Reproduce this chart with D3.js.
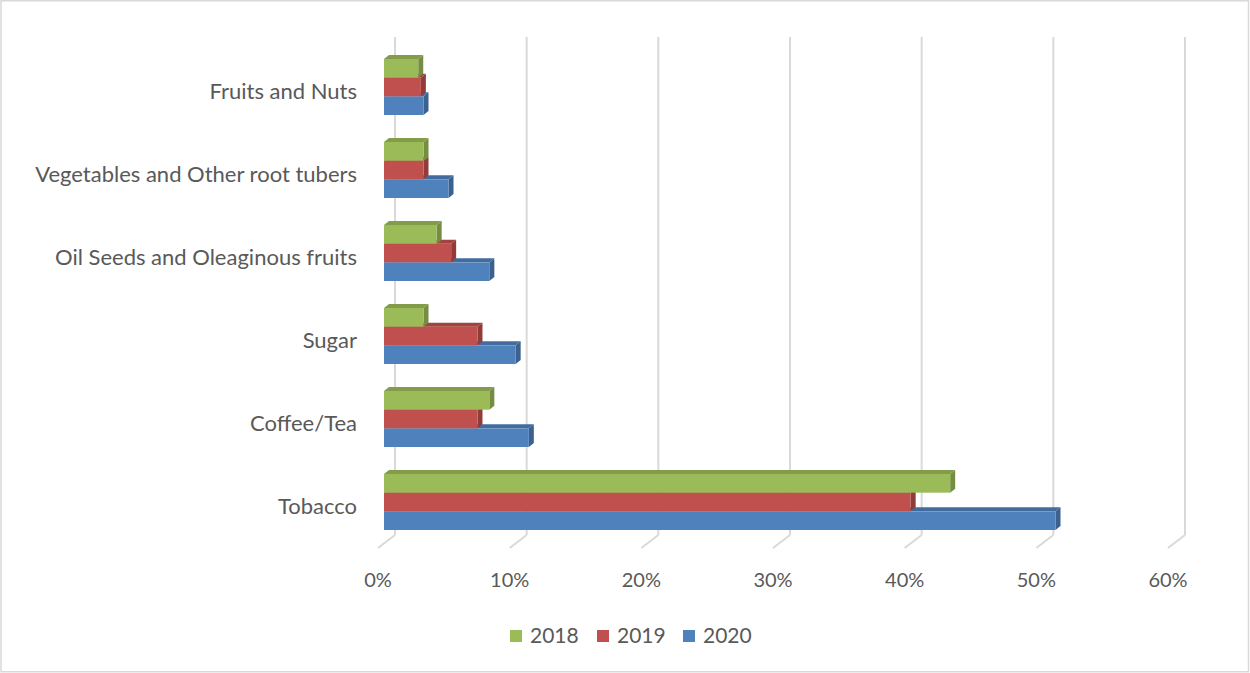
<!DOCTYPE html>
<html>
<head>
<meta charset="utf-8">
<script src="https://cdn.jsdelivr.net/npm/d3@7"></script>
<style>
  html, body { margin: 0; padding: 0; background: #fff; }
  svg { display: block; }
  text { font-family: Lato, "Open Sans", sans-serif; fill: #595959; }
</style>
</head>
<body>
<svg id="chart" width="1250" height="673"></svg>
<script>
// Categories, listed top to bottom as drawn
const categories = [
  "Fruits and Nuts",
  "Vegetables and Other root tubers",
  "Oil Seeds and Oleaginous fruits",
  "Sugar",
  "Coffee/Tea",
  "Tobacco"
];
const seriesNames = ["2018", "2019", "2020"];
const values2018 = [0.026, 0.03, 0.04, 0.03, 0.08, 0.43];
const values2019 = [0.028, 0.03, 0.051, 0.071, 0.071, 0.40];
const values2020 = [0.03, 0.049, 0.08, 0.10, 0.11, 0.51];
const tickValues = [0, 0.1, 0.2, 0.3, 0.4, 0.5, 0.6];
const seriesColors = ["#9BBB59", "#C0504D", "#4F81BD"];

const seriesValues = [values2018, values2019, values2020];

const svg = d3.select("#chart");

// Chart border
svg.append("rect")
  .attr("x", 1).attr("y", 0.75)
  .attr("width", 1247.5).attr("height", 671)
  .attr("fill", "none")
  .attr("stroke", "#D9D9D9")
  .attr("stroke-width", 1.5);

// Back wall scales
const wallTop = 37, wallBottom = 535;
const x = d3.scaleLinear().domain([0, 0.6]).range([395, 1185]);
const y = d3.scaleBand().domain(categories).range([wallTop, wallBottom]).padding(0);
const ySeries = d3.scaleBand().domain(seriesNames)
  .range([(y.bandwidth() - 56) / 2, (y.bandwidth() + 56) / 2]);

// Oblique depth offsets (from back wall)
const floorDepth = { dx: -17, dy: 13 };
const barFront = { dx: -11, dy: 8.5 };
const barBack = { dx: -6, dy: 4.5 };
const topDx = barBack.dx - barFront.dx, topDy = barBack.dy - barFront.dy;

// Gridlines on the back wall
const grid = svg.append("g");
grid.selectAll("line.wall")
  .data(tickValues)
  .join("line")
  .attr("x1", d => x(d)).attr("x2", d => x(d))
  .attr("y1", wallTop).attr("y2", wallBottom)
  .attr("stroke", "#D9D9D9").attr("stroke-width", 2);
// Floor lines
grid.selectAll("line.floor")
  .data(tickValues)
  .join("line")
  .attr("x1", d => x(d)).attr("y1", wallBottom)
  .attr("x2", d => x(d) + floorDepth.dx).attr("y2", wallBottom + floorDepth.dy)
  .attr("stroke", "#D9D9D9").attr("stroke-width", 2);

// Tick labels along the front edge of the floor
svg.append("g").selectAll("text")
  .data(tickValues)
  .join("text")
  .attr("x", d => x(d) + floorDepth.dx)
  .attr("y", 587)
  .attr("text-anchor", "middle")
  .attr("font-size", 20)
  .text(d3.format(".0%"));

// Category labels
svg.append("g").selectAll("text")
  .data(categories)
  .join("text")
  .attr("x", 357)
  .attr("y", d => y(d) + y.bandwidth() / 2 + floorDepth.dy)
  .attr("dy", "0.35em")
  .attr("text-anchor", "end")
  .attr("font-size", 22)
  .text(d => d);

// 3D bars: draw bottom series first so the bar above covers its top face
const bars = svg.append("g");
const poly = pts => pts.map(p => p.join(",")).join(" ");

categories.forEach((cat, ci) => {
  for (let si = seriesNames.length - 1; si >= 0; si--) {
    const v = seriesValues[si][ci];
    const base = seriesColors[si];
    const x0 = x(0) + barFront.dx;
    const x1 = x(v) + barFront.dx;
    const yTop = y(cat) + ySeries(seriesNames[si]) + barFront.dy;
    const yBot = yTop + ySeries.bandwidth();
    const g = bars.append("g");
    // side face
    g.append("polygon")
      .attr("points", poly([[x1, yTop], [x1 + topDx, yTop + topDy], [x1 + topDx, yBot + topDy], [x1, yBot]]))
      .attr("fill", d3.color(base).darker(0.8));
    // top face
    g.append("polygon")
      .attr("points", poly([[x0, yTop], [x0 + topDx, yTop + topDy], [x1 + topDx, yTop + topDy], [x1, yTop]]))
      .attr("fill", d3.color(base).darker(0.5));
    // front face
    g.append("rect")
      .attr("x", x0).attr("y", yTop)
      .attr("width", x1 - x0).attr("height", yBot - yTop)
      .attr("fill", base);
  }
});

// Legend
const legendItems = [
  { name: "2018", x: 510 },
  { name: "2019", x: 597 },
  { name: "2020", x: 683 }
];
const legend = svg.append("g");
legendItems.forEach((it, i) => {
  legend.append("rect")
    .attr("x", it.x).attr("y", 630)
    .attr("width", 12).attr("height", 12)
    .attr("fill", seriesColors[i]);
  legend.append("text")
    .attr("x", it.x + 20).attr("y", 636)
    .attr("dy", "0.35em")
    .attr("font-size", 21)
    .text(it.name);
});
</script>
</body>
</html>
